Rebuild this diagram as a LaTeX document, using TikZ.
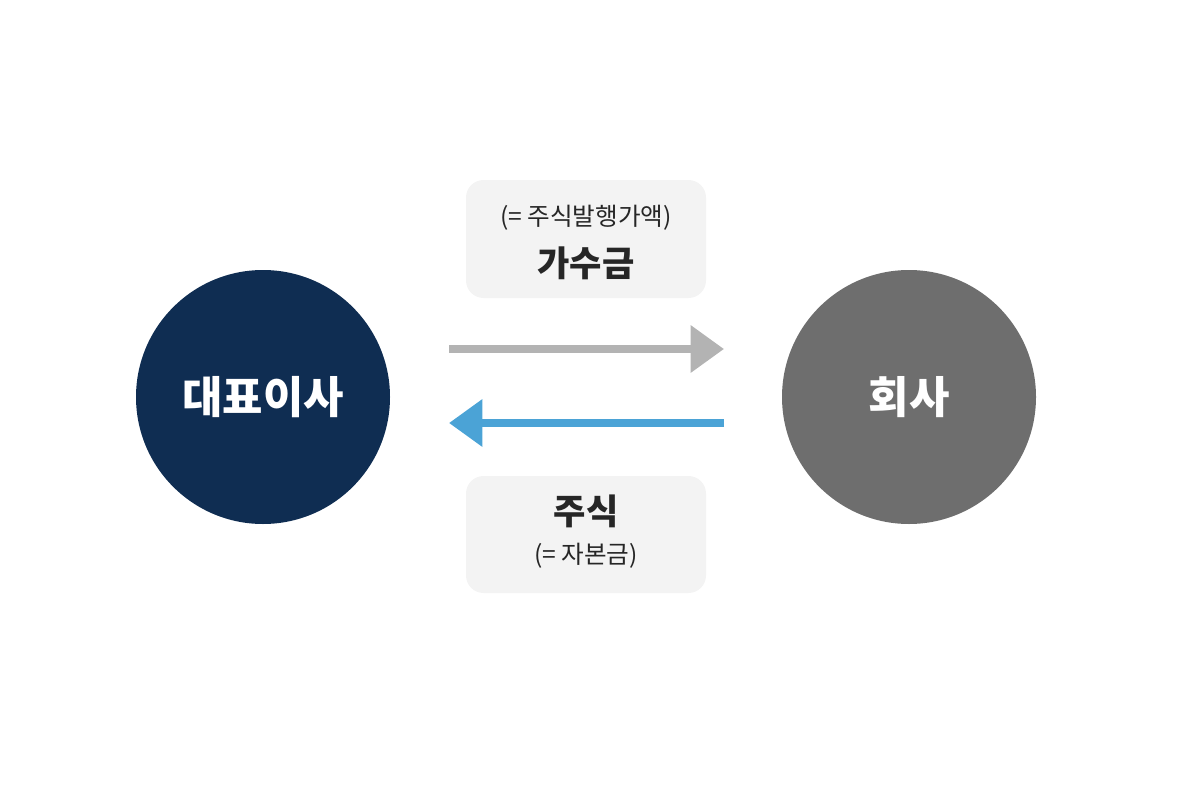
\documentclass[tikz,border=0pt]{standalone}
\usepackage{fontspec}
\setmainfont{Noto Sans CJK KR}
\newfontfamily\kbold{Noto Sans CJK KR}[BoldFont={* Bold}]
\usetikzlibrary{arrows.meta}
\begin{document}
\begin{tikzpicture}[x=0.02cm,y=-0.02cm,
  circ/.style={circle,minimum size=254*0.02cm,inner sep=0pt,text=white,font=\fontsize{25}{30}\selectfont\bfseries},
  box/.style={rounded corners=10pt,fill=boxgray,draw=none},
  arr/.style={line width=4.5pt,-{Triangle[length=19pt,width=26pt]}}]
\definecolor{navy}{HTML}{0F2D52}
\definecolor{dgray}{HTML}{6E6E6E}
\definecolor{boxgray}{HTML}{F3F3F3}
\definecolor{lgray}{HTML}{B3B3B3}
\definecolor{blue}{HTML}{4BA3D6}
\useasboundingbox (0,0) rectangle (1200,794);
\node[circ,fill=navy] (ceo) at (263,397) {대표이사};
\node[circ,fill=dgray] (co) at (909,397) {회사};
\fill[boxgray,rounded corners=10pt] (466,180) rectangle (706,298);
\fill[boxgray,rounded corners=10pt] (466,476) rectangle (706,593);
\node[font=\fontsize{14}{16}\selectfont,text=black!85] (t1) at (586,218) {(= 주식발행가액)};
\node[font=\fontsize{20}{24}\selectfont\bfseries,text=black!85] (t2) at (586,263) {가수금};
\node[font=\fontsize{20}{24}\selectfont\bfseries,text=black!85] (b1) at (586,511) {주식};
\node[font=\fontsize{14}{16}\selectfont,text=black!85] (b2) at (586,556) {(= 자본금)};
\coordinate (a1s) at (449,349); \coordinate (a1e) at (724,349);
\coordinate (a2s) at (724,423); \coordinate (a2e) at (449,423);
\draw[arr,lgray] (a1s) -- (a1e);
\draw[arr,blue] (a2s) -- (a2e);
\end{tikzpicture}
\end{document}
